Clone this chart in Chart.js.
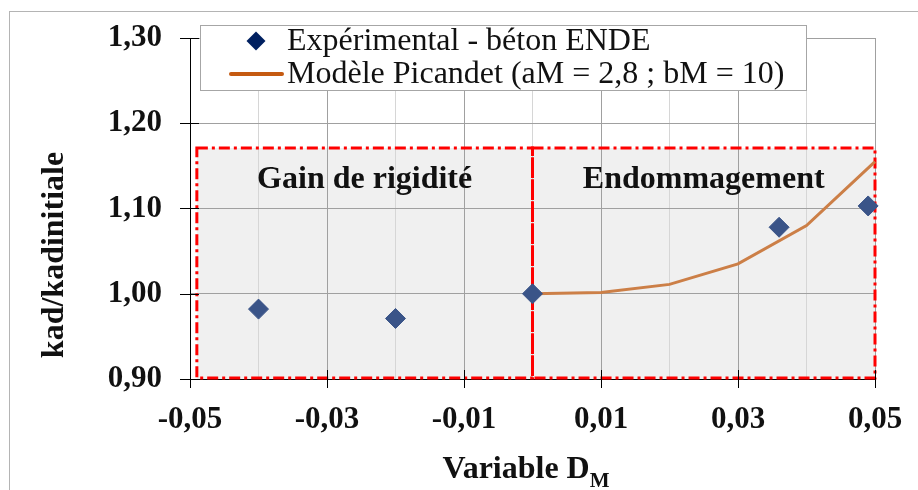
<!DOCTYPE html>
<html>
<head>
<meta charset="utf-8">
<script src="https://cdn.jsdelivr.net/npm/chart.js@4/dist/chart.umd.min.js"></script>
<style>
  html, body { margin: 0; padding: 0; background: #fff; }
  canvas { display: block; }
</style>
</head>
<body>
<canvas id="chart" width="918" height="490"></canvas>
<script>
// measured points
const expX   = [-0.04, -0.02, 0.0, 0.036, 0.049];
const expY   = [0.982, 0.971, 1.000, 1.078, 1.103];
const modelX = [0.0, 0.01, 0.02, 0.03, 0.04, 0.05];
const modelY = [1.000, 1.0015, 1.011, 1.035, 1.080, 1.155];

// axes
const xTicks    = [-0.05, -0.04, -0.03, -0.02, -0.01, 0, 0.01, 0.02, 0.03, 0.04, 0.05];
const xLabelled = [-0.05, -0.03, -0.01, 0.01, 0.03, 0.05];
const yTicks    = [0.9, 1.0, 1.1, 1.2, 1.3];

// zones
const zones    = ['Gain de rigidité', 'Endommagement'];
const zoneFrom = [-0.049, 0.0];
const zoneTo   = [0.0, 0.05];
const zoneTop  = 1.171;

const seriesNames = ['Expérimental - béton ENDE', 'Modèle Picandet (aM = 2,8 ; bM = 10)'];

const serif = "'Liberation Serif', 'Times New Roman', serif";
const fmt = v => v.toFixed(2).replace('.', ',');
const isLab = v => xLabelled.some(l => Math.abs(l - v) < 1e-9);

const decor = {
  id: 'decor',
  beforeDraw(chart) {
    const { ctx, scales: { x, y } } = chart;
    ctx.save();
    ctx.fillStyle = '#fff';
    ctx.fillRect(0, 0, chart.width, chart.height);
    ctx.strokeStyle = '#b4b4b4';
    ctx.lineWidth = 1;
    ctx.strokeRect(9.5, 11.5, chart.width, chart.height);
    // grey zone fill (under the grid)
    ctx.fillStyle = '#f0f0f0';
    const t = y.getPixelForValue(zoneTop), b = y.getPixelForValue(yTicks[0]);
    zones.forEach((z, i) => {
      const l = x.getPixelForValue(zoneFrom[i]), r = x.getPixelForValue(zoneTo[i]);
      ctx.fillRect(l, t, r - l, b - t);
    });
    ctx.restore();
  },
  beforeDatasetsDraw(chart) {
    const { ctx, scales: { x, y } } = chart;
    const t = y.getPixelForValue(zoneTop), b = y.getPixelForValue(yTicks[0]) - 1;
    ctx.save();
    ctx.strokeStyle = '#ff0000';
    ctx.lineWidth = 3;
    ctx.setLineDash([11, 4, 3, 4]);
    zones.forEach((z, i) => {
      const l = x.getPixelForValue(zoneFrom[i]), r = x.getPixelForValue(zoneTo[i]);
      ctx.strokeRect(l, t, r - l, b - t);
    });
    ctx.setLineDash([]);
    ctx.fillStyle = '#111';
    ctx.font = 'bold 32px ' + serif;
    ctx.textAlign = 'center';
    ctx.textBaseline = 'alphabetic';
    zones.forEach((z, i) => {
      const cx = x.getPixelForValue((zoneFrom[i] + zoneTo[i]) / 2);
      ctx.fillText(z, cx, t + 40);
    });
    ctx.restore();
  },
  afterDraw(chart) {
    const { ctx, chartArea: a, scales: { x, y } } = chart;
    ctx.save();
    // crossing tick marks
    ctx.strokeStyle = '#000';
    ctx.lineWidth = 1;
    ctx.beginPath();
    yTicks.forEach(v => {
      const py = Math.round(y.getPixelForValue(v)) + 0.5;
      ctx.moveTo(a.left - 10, py); ctx.lineTo(a.left + 9, py);
    });
    xLabelled.forEach(v => {
      const px = Math.round(x.getPixelForValue(v)) + 0.5;
      ctx.moveTo(px, a.bottom - 9); ctx.lineTo(px, a.bottom + 9);
    });
    ctx.stroke();

    // axis titles
    ctx.fillStyle = '#111';
    ctx.font = 'bold 32px ' + serif;
    ctx.save();
    ctx.translate(55, 255);
    ctx.rotate(-Math.PI / 2);
    ctx.textAlign = 'center';
    ctx.textBaseline = 'middle';
    ctx.fillText('kad/kadinitiale', 0, 0);
    ctx.restore();

    const main = 'Variable D', sub = 'M';
    ctx.textAlign = 'left';
    ctx.textBaseline = 'alphabetic';
    const w1 = ctx.measureText(main).width;
    ctx.font = 'bold 21px ' + serif;
    const w2 = ctx.measureText(sub).width;
    const sx = 526 - (w1 + w2) / 2;
    ctx.font = 'bold 32px ' + serif;
    ctx.fillText(main, sx, 478);
    ctx.font = 'bold 21px ' + serif;
    ctx.fillText(sub, sx + w1, 487);

    // legend
    ctx.fillStyle = '#fff';
    ctx.fillRect(200, 25, 606, 65);
    ctx.strokeStyle = '#a6a6a6';
    ctx.strokeRect(200.5, 25.5, 606, 65);
    ctx.fillStyle = '#002060';
    ctx.beginPath();
    ctx.moveTo(256, 31.5); ctx.lineTo(265.5, 41); ctx.lineTo(256, 50.5); ctx.lineTo(246.5, 41);
    ctx.closePath();
    ctx.fill();
    ctx.strokeStyle = '#c55a11';
    ctx.lineWidth = 4;
    ctx.lineCap = 'round';
    ctx.beginPath();
    ctx.moveTo(231, 74); ctx.lineTo(282, 74);
    ctx.stroke();
    ctx.fillStyle = '#111';
    ctx.font = '32px ' + serif;
    ctx.fillText(seriesNames[0], 287, 50);
    ctx.fillText(seriesNames[1], 287, 83);
    ctx.restore();
  }
};

const tickFont = { family: serif, size: 31, weight: 'bold' };

new Chart(document.getElementById('chart'), {
  type: 'scatter',
  data: {
    datasets: [
      {
        label: seriesNames[0],
        data: expX.map((v, i) => ({ x: v, y: expY[i] })),
        pointStyle: 'rectRot',
        pointRadius: 10,
        backgroundColor: '#3a5488',
        borderColor: '#3a5488',
        borderWidth: 1,
        clip: 14
      },
      {
        label: seriesNames[1],
        data: modelX.map((v, i) => ({ x: v, y: modelY[i] })),
        showLine: true,
        pointRadius: 0,
        borderColor: '#cc7f47',
        borderWidth: 3,
        clip: 4
      }
    ]
  },
  options: {
    responsive: false,
    animation: false,
    devicePixelRatio: 1,
    layout: { padding: { top: 38, right: 43, left: 0, bottom: 0 } },
    plugins: { legend: { display: false }, tooltip: { enabled: false } },
    scales: {
      x: {
        type: 'linear',
        min: -0.05,
        max: 0.05,
        afterBuildTicks: s => { s.ticks = xTicks.map(v => ({ value: v })); },
        afterFit: s => { s.height = 111; s.paddingLeft = 0; s.paddingRight = 0; },
        grid: { color: c => isLab(c.tick.value) ? '#a0a0a0' : '#d6d6d6', drawTicks: false },
        border: { color: '#000', width: 1 },
        ticks: { autoSkip: false, maxRotation: 0, padding: 22, color: '#111', font: tickFont,
                 callback: v => isLab(v) ? fmt(v) : '' }
      },
      y: {
        min: 0.9,
        max: 1.3,
        afterBuildTicks: s => { s.ticks = yTicks.map(v => ({ value: v })); },
        afterFit: s => { s.width = 190; s.paddingTop = 0; s.paddingBottom = 0; },
        grid: { color: '#a0a0a0', drawTicks: false },
        border: { color: '#000', width: 1 },
        ticks: { padding: 28, color: '#111', font: tickFont, callback: v => fmt(v) }
      }
    }
  },
  plugins: [decor]
});
</script>
</body>
</html>
